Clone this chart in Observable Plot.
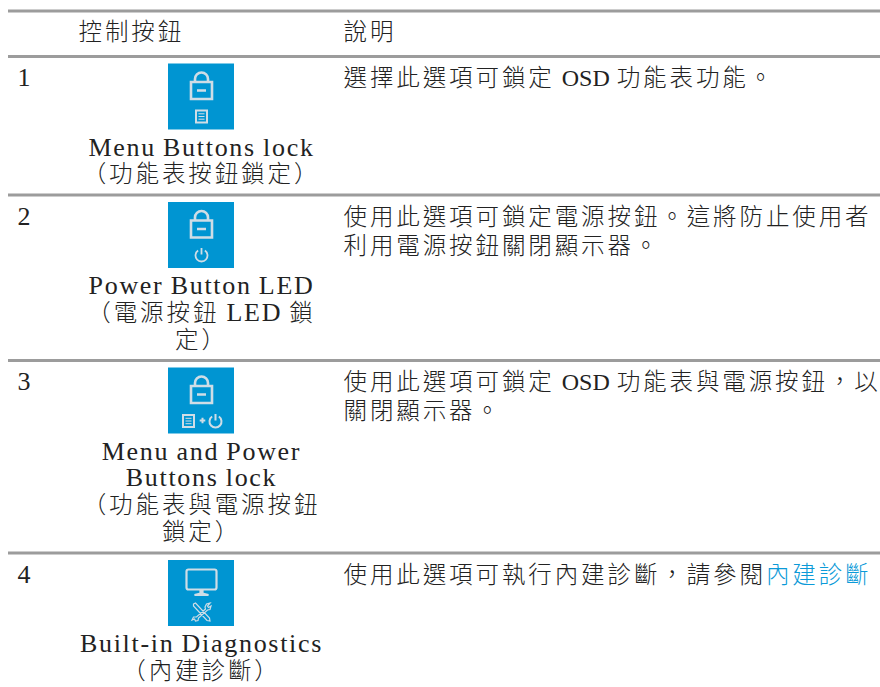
<!DOCTYPE html>
<html lang="zh-Hant">
<head>
<meta charset="utf-8">
<script src="https://cdn.jsdelivr.net/npm/d3@7"></script>
<script src="https://cdn.jsdelivr.net/npm/@observablehq/plot@0.6"></script>
<style>
html,body{margin:0;padding:0;background:#fff}
svg{display:block}
text{white-space:pre}
tspan.cjk{font-family:"Noto Sans CJK TC";font-size:23.5px;letter-spacing:2.9px;font-weight:300}
tspan.lat{font-family:"Liberation Serif";font-size:26px;letter-spacing:1.7px;word-spacing:-1px}
tspan.lat.inline{font-size:24px;letter-spacing:0;word-spacing:1px}
</style>
</head>
<body>
<div id="chart"></div>
<script>
const headers = ["控制按鈕", "說明"];
const rowNumbers = ["1", "2", "3", "4"];
const buttonLabels = [
  ["Menu Buttons lock", "（功能表按鈕鎖定）"],
  ["Power Button LED", "（電源按鈕 LED 鎖", "定）"],
  ["Menu and Power", "Buttons lock", "（功能表與電源按鈕", "鎖定）"],
  ["Built-in Diagnostics", "（內建診斷）"]
];
const descriptions = [
  ["選擇此選項可鎖定 OSD 功能表功能。"],
  ["使用此選項可鎖定電源按鈕。這將防止使用者", "利用電源按鈕關閉顯示器。"],
  ["使用此選項可鎖定 OSD 功能表與電源按鈕，以", "關閉顯示器。"],
  ["使用此選項可執行內建診斷，請參閱內建診斷"]
];
const linkRow = 3;
const linkText = "內建診斷";
const rowIcons = [["lock", "menu"], ["lock", "power"], ["lock", "menuPower"], ["monitor", "tools"]];

// layout of the page, shared by the marks
const W = 880, H = 687;
const ruleYs = [10.5, 56, 194.5, 360, 552.5];
const columnX = {number: 17, button: 201, text: 343, header: 78};
const tileSize = 66, tileGap = 7.5, labelGap = 18, labelPitch = 26.7, descGap = 22, descPitch = 29;
const tileTop = i => ruleYs[i + 1] + tileGap;

const ink = "#222", tileFill = "#0095d2", glyph = "#cfdde6", link = "#0b9ad8", ruleColor = "#9c9c9c";

// icon glyphs as custom Plot symbols
const sym = draw => ({draw});
const lock = sym(p => {
  p.rect(-10.5, -4, 21, 17);
  p.moveTo(-6.5, -4); p.lineTo(-6.5, -7); p.arc(0, -7, 6.5, Math.PI, 0); p.lineTo(6.5, -4);
  p.moveTo(-4.5, 4.5); p.lineTo(4.5, 4.5);
});
const menuOutline = sym(p => { p.rect(-5.5, -6, 11, 12); });
const menuLines = sym(p => {
  p.moveTo(-3, -2.7); p.lineTo(3, -2.7);
  p.moveTo(-3, 0); p.lineTo(3, 0);
  p.moveTo(-3, 2.7); p.lineTo(3, 2.7);
});
const power = sym(p => {
  p.arc(0, 0, 6, -Math.PI / 2 + 0.6, 3 * Math.PI / 2 - 0.6);
  p.moveTo(0, -7.5); p.lineTo(0, -1);
});
const plus = sym(p => { p.moveTo(-2.8, 0); p.lineTo(2.8, 0); p.moveTo(0, -2.8); p.lineTo(0, 2.8); });
const monitor = sym(p => {
  p.moveTo(-13, -10); p.lineTo(13, -10); p.arc(13, -8, 2, -Math.PI / 2, 0);
  p.lineTo(15, 8); p.arc(13, 8, 2, 0, Math.PI / 2);
  p.lineTo(-13, 10); p.arc(-13, 8, 2, Math.PI / 2, Math.PI);
  p.lineTo(-15, -8); p.arc(-13, -8, 2, Math.PI, 3 * Math.PI / 2);
  p.moveTo(-1, 11); p.lineTo(-1, 14); p.lineTo(-7, 15.5); p.lineTo(7, 15.5); p.lineTo(1, 14); p.lineTo(1, 11);
});
const tools = sym(p => {
  p.moveTo(-8, -8); p.lineTo(-6, -9); p.lineTo(8, 6); p.lineTo(8.5, 9); p.lineTo(5.5, 8.5); p.lineTo(-8, -6); p.closePath();
  p.moveTo(8.5, -9); p.lineTo(5, -8); p.lineTo(3.5, -5); p.lineTo(4, -3); p.lineTo(-5, 5);
  p.lineTo(-8, 5); p.lineTo(-9.5, 8); p.lineTo(-7, 7); p.lineTo(-6, 9); p.lineTo(-3.5, 8.5); p.lineTo(-3, 6);
  p.lineTo(6, -2); p.lineTo(8.5, -2.5); p.lineTo(9.5, -6); p.lineTo(7, -4.5); p.lineTo(6, -6); p.closePath();
});
const iconParts = {
  lock: [{s: lock, dx: 0, dy: 22, w: 2.6}],
  menu: [{s: menuOutline, dx: 0, dy: 52.5, w: 2}, {s: menuLines, dx: 0, dy: 52.5, w: 1}],
  power: [{s: power, dx: 0, dy: 53, w: 1.8}],
  menuPower: [
    {s: menuOutline, dx: -13, dy: 53, w: 2}, {s: menuLines, dx: -13, dy: 53, w: 1},
    {s: plus, dx: 1, dy: 52.5, w: 2},
    {s: power, dx: 14, dy: 53.5, w: 2}
  ],
  monitor: [{s: monitor, dx: 0, dy: 19, w: 2.2}],
  tools: [{s: tools, dx: 0, dy: 51.5, w: 1.2}]
};

// keep each line one real text element; style its Latin and CJK runs as tspans
const isLatin = c => c.charCodeAt(0) < 0x2000;
function splitRuns(el, line) {
  const s = line.text;
  const linkStart = line.link ? s.lastIndexOf(linkText) : -1;
  el.textContent = "";
  let i = 0;
  while (i < s.length) {
    const lat = isLatin(s[i]);
    const inLink = linkStart >= 0 && i >= linkStart;
    let j = i + 1;
    while (j < s.length && isLatin(s[j]) === lat && (linkStart < 0 || (j >= linkStart) === inLink)) j++;
    const t = document.createElementNS("http://www.w3.org/2000/svg", "tspan");
    t.setAttribute("class", lat ? (line.desc ? "lat inline" : "lat") : "cjk");
    if (inLink) t.setAttribute("fill", link);
    t.textContent = s.slice(i, j);
    el.appendChild(t);
    i = j;
  }
}
const textMark = (lines, anchor) => Plot.text(lines, {
  x: "x", y: "y", text: "text", textAnchor: anchor, fill: ink, fontSize: 24,
  render(index, scales, values, dims, ctx, next) {
    const g = next(index, scales, values, dims, ctx);
    d3.select(g).selectAll("text").each(function(_, k) { splitRuns(this, lines[index[k]]); });
    return g;
  }
});

const leftLines = [
  {x: columnX.header, y: 32, text: headers[0]},
  {x: columnX.text, y: 32, text: headers[1]}
];
rowNumbers.forEach((n, i) => leftLines.push({x: columnX.number, y: ruleYs[i + 1] + descGap, text: n}));
descriptions.forEach((ls, i) => ls.forEach((text, k) =>
  leftLines.push({x: columnX.text, y: ruleYs[i + 1] + descGap + k * descPitch, text, desc: true, link: i === linkRow})));

const centerLines = buttonLabels.flatMap((ls, i) => ls.map((text, k) =>
  ({x: columnX.button, y: tileTop(i) + tileSize + labelGap + k * labelPitch, text})));

const glyphMarks = rowIcons.flatMap((names, i) => names.flatMap(n => iconParts[n].map(part =>
  Plot.dot([{x: columnX.button + part.dx, y: tileTop(i) + part.dy}], {
    x: "x", y: "y", r: 10, symbol: part.s, fill: "none", stroke: glyph, strokeWidth: part.w
  }))));

const plot = Plot.plot({
  width: W, height: H, margin: 0,
  x: {domain: [0, W], range: [0, W], axis: null},
  y: {domain: [0, H], range: [0, H], axis: null},
  marks: [
    Plot.ruleY(ruleYs, {x1: 8, x2: W, stroke: ruleColor, strokeWidth: 3}),
    Plot.rect(rowNumbers, {
      x1: () => columnX.button - tileSize / 2, x2: () => columnX.button + tileSize / 2,
      y1: (d, i) => tileTop(i), y2: (d, i) => tileTop(i) + tileSize,
      fill: tileFill, inset: 0
    }),
    ...glyphMarks,
    textMark(leftLines, "start"),
    textMark(centerLines, "middle")
  ]
});
document.getElementById("chart").appendChild(plot);
</script>
</body>
</html>
